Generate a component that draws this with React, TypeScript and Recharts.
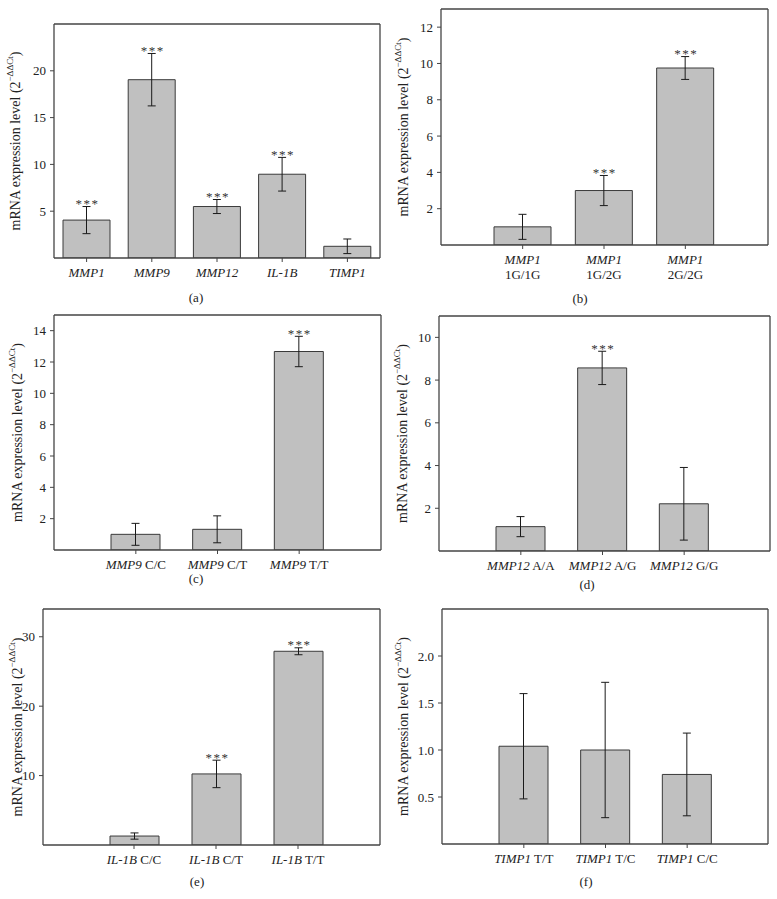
import React from 'react';
import { ComposedChart, Bar, Line, XAxis, YAxis, ErrorBar } from 'recharts';

const FONT = '"Liberation Serif", "Times New Roman", serif';
const INK = '#222';
const FRAME = '#444';

// (a) all genes
const catsA = ['MMP1', 'MMP9', 'MMP12', 'IL-1B', 'TIMP1'];
const meanA = [4.05, 19.05, 5.5, 8.95, 1.25];
const errA = [1.45, 2.8, 0.75, 1.8, 0.78];
const sigA = [true, true, true, true, false];

// (b) MMP1 genotypes
const catsB = ['MMP1 1G/1G', 'MMP1 1G/2G', 'MMP1 2G/2G'];
const meanB = [1.0, 3.0, 9.75];
const errB = [0.69, 0.83, 0.63];
const sigB = [false, true, true];

// (c) MMP9 genotypes
const catsC = ['MMP9 C/C', 'MMP9 C/T', 'MMP9 T/T'];
const meanC = [1.0, 1.32, 12.67];
const errC = [0.7, 0.86, 0.97];
const sigC = [false, false, true];

// (d) MMP12 genotypes
const catsD = ['MMP12 A/A', 'MMP12 A/G', 'MMP12 G/G'];
const meanD = [1.14, 8.57, 2.21];
const errD = [0.47, 0.78, 1.7];
const sigD = [false, true, false];

// (e) IL-1B genotypes
const catsE = ['IL-1B C/C', 'IL-1B C/T', 'IL-1B T/T'];
const meanE = [1.29, 10.24, 27.91];
const errE = [0.45, 1.98, 0.5];
const sigE = [false, true, true];

// (f) TIMP1 genotypes
const catsF = ['TIMP1 T/T', 'TIMP1 T/C', 'TIMP1 C/C'];
const meanF = [1.04, 1.0, 0.74];
const errF = [0.56, 0.72, 0.44];
const sigF = [false, false, false];

const ticksA = [5, 10, 15, 20];
const ticksB = [2, 4, 6, 8, 10, 12];
const ticksC = [2, 4, 6, 8, 10, 12, 14];
const ticksD = [2, 4, 6, 8, 10];
const ticksE = [10, 20, 30];
const ticksF = [0.5, 1.0, 1.5, 2.0];

const XTick = (props: any) => {
  const { x, y, payload, twoLine } = props;
  const [gene, ...rest] = String(payload.value).split(' ');
  const geno = rest.join(' ');
  if (twoLine) {
    return (
      <text x={x} y={y} textAnchor="middle" fontFamily={FONT} fontSize={13} fill={INK}>
        <tspan x={x} dy={14.5} fontStyle="italic">{gene}</tspan>
        <tspan x={x} dy={15}>{geno}</tspan>
      </text>
    );
  }
  return (
    <text x={x} y={y + 15} textAnchor="middle" fontFamily={FONT} fontSize={13} fill={INK}>
      <tspan fontStyle="italic">{gene}</tspan>
      {geno ? ' ' + geno : ''}
    </text>
  );
};

const YLabel = ({ lx, ly }: any) => (
  <text
    x={lx}
    y={ly}
    transform={`rotate(-90 ${lx} ${ly})`}
    textAnchor="middle"
    dominantBaseline="central"
    fontFamily={FONT}
    fontSize={14}
    fill={INK}
  >
    mRNA expression level (2
    <tspan fontSize={9} dy={-5}>−ΔΔCt</tspan>
    <tspan fontSize={14} dy={5}>)</tspan>
  </text>
);

interface PanelProps {
  cats: string[];
  means: number[];
  errs: number[];
  sig: boolean[];
  domain: [number, number];
  ticks: number[];
  decimals?: number;
  left: number;
  top: number;
  width: number;
  height: number;
  margin: { top: number; right: number; bottom: number; left: number };
  yWidth: number;
  xHeight: number;
  pad: { left: number; right: number };
  barSize: number;
  labelX: number;
  twoLine?: boolean;
  caption: string;
  capX: number;
  capY: number;
}

const Panel = (p: PanelProps) => {
  const data = p.cats.map((name, i) => ({ name, mean: p.means[i], err: p.errs[i], sig: p.sig[i] }));
  // frame axes take 1px at top and right
  const margin = { ...p.margin, top: p.margin.top - 1, right: p.margin.right - 1 };
  const plotH = p.height - p.margin.top - p.margin.bottom - p.xHeight;
  const cy = p.margin.top + plotH / 2;

  const stars = (lp: any) => {
    const vb = lp.viewBox ?? lp;
    const d = data[lp.index];
    if (!d || !d.sig) return null;
    const h = Math.abs(vb.height);
    const yTop = Math.min(vb.y, vb.y + vb.height);
    const errTop = yTop - (d.err * h) / d.mean;
    return (
      <text
        x={vb.x + vb.width / 2 + 1}
        y={errTop + 1.5}
        textAnchor="middle"
        fontFamily={FONT}
        fontSize={13}
        letterSpacing={1.5}
        fill="#333"
      >
        ***
      </text>
    );
  };

  return (
    <>
      <div style={{ position: 'absolute', left: p.left, top: p.top }}>
        <ComposedChart width={p.width} height={p.height} data={data} margin={margin}>
          <XAxis
            dataKey="name"
            height={p.xHeight}
            interval={0}
            padding={p.pad}
            tickSize={4}
            tickMargin={0}
            tickLine={{ stroke: FRAME }}
            axisLine={{ stroke: FRAME, strokeWidth: 1.3 }}
            tick={(tp: any) => <XTick {...tp} twoLine={p.twoLine} />}
          />
          <XAxis
            xAxisId="top"
            dataKey="name"
            orientation="top"
            height={1}
            padding={p.pad}
            tick={false}
            tickLine={false}
            axisLine={{ stroke: FRAME, strokeWidth: 1.3 }}
          />
          <YAxis
            width={p.yWidth}
            domain={p.domain}
            ticks={p.ticks}
            interval={0}
            allowDataOverflow
            tickSize={4}
            tickMargin={4}
            tickLine={{ stroke: FRAME }}
            axisLine={{ stroke: FRAME, strokeWidth: 1.3 }}
            tick={{ fontSize: 13, fill: INK, fontFamily: FONT }}
            tickFormatter={(v: number) => (p.decimals ? v.toFixed(p.decimals) : String(v))}
            label={<YLabel lx={p.labelX} ly={cy} />}
          />
          <YAxis
            yAxisId="right"
            orientation="right"
            width={1}
            domain={p.domain}
            allowDataOverflow
            tick={false}
            tickLine={false}
            axisLine={{ stroke: FRAME, strokeWidth: 1.3 }}
          />
          <Bar
            dataKey="mean"
            barSize={p.barSize}
            fill="#c0c0c0"
            stroke="#3a3a3a"
            strokeWidth={1}
            isAnimationActive={false}
            label={stars}
          >
            <ErrorBar
              dataKey="err"
              direction="y"
              width={4}
              stroke="#1a1a1a"
              strokeWidth={1}
              isAnimationActive={false}
            />
          </Bar>
          <Line
            xAxisId="top"
            yAxisId="right"
            dataKey="mean"
            stroke="none"
            dot={false}
            activeDot={false}
            legendType="none"
            isAnimationActive={false}
          />
        </ComposedChart>
      </div>
      <div
        style={{
          position: 'absolute',
          left: p.capX - 20,
          top: p.capY - 6,
          width: 40,
          lineHeight: '12px',
          textAlign: 'center',
          fontFamily: FONT,
          fontSize: 13,
          color: INK,
        }}
      >
        {p.caption}
      </div>
    </>
  );
};

export default function App() {
  return (
    <div style={{ position: 'absolute', left: 0, top: 0, width: 777, height: 899, background: '#fff' }}>
      <Panel
        cats={catsA} means={meanA} errs={errA} sig={sigA} domain={[0, 25]} ticks={ticksA}
        left={0} top={0} width={388} height={300}
        margin={{ top: 24, right: 8, bottom: 12, left: 0 }} yWidth={54} xHeight={30}
        pad={{ left: 0, right: 0 }} barSize={47} labelX={15}
        caption="(a)" capX={196} capY={298}
      />
      <Panel
        cats={catsB} means={meanB} errs={errB} sig={sigB} domain={[0, 13]} ticks={ticksB}
        left={388} top={0} width={389} height={300}
        margin={{ top: 9, right: 9, bottom: 15, left: 0 }} yWidth={53} xHeight={40}
        pad={{ left: 41, right: 42 }} barSize={57} labelX={15} twoLine
        caption="(b)" capX={580} capY={299}
      />
      <Panel
        cats={catsC} means={meanC} errs={errC} sig={sigC} domain={[0, 15]} ticks={ticksC}
        left={0} top={300} width={388} height={300}
        margin={{ top: 15, right: 7, bottom: 20, left: 0 }} yWidth={54} xHeight={30}
        pad={{ left: 41, right: 41 }} barSize={49} labelX={17}
        caption="(c)" capX={196} capY={579}
      />
      <Panel
        cats={catsD} means={meanD} errs={errD} sig={sigD} domain={[0, 11]} ticks={ticksD}
        left={388} top={300} width={389} height={300}
        margin={{ top: 16, right: 7, bottom: 19, left: 0 }} yWidth={51} xHeight={30}
        pad={{ left: 41, right: 45 }} barSize={49} labelX={14}
        caption="(d)" capX={587} capY={585}
      />
      <Panel
        cats={catsE} means={meanE} errs={errE} sig={sigE} domain={[0, 34]} ticks={ticksE}
        left={0} top={600} width={388} height={299}
        margin={{ top: 9, right: 8, bottom: 24, left: 0 }} yWidth={43} xHeight={30}
        pad={{ left: 50, right: 41 }} barSize={49} labelX={17}
        caption="(e)" capX={197} capY={882}
      />
      <Panel
        cats={catsF} means={meanF} errs={errF} sig={sigF} domain={[0, 2.5]} ticks={ticksF} decimals={1}
        left={388} top={600} width={389} height={299}
        margin={{ top: 9, right: 9, bottom: 25, left: 0 }} yWidth={54} xHeight={30}
        pad={{ left: 41, right: 40 }} barSize={49} labelX={15}
        caption="(f)" capX={586} capY={882}
      />
    </div>
  );
}
